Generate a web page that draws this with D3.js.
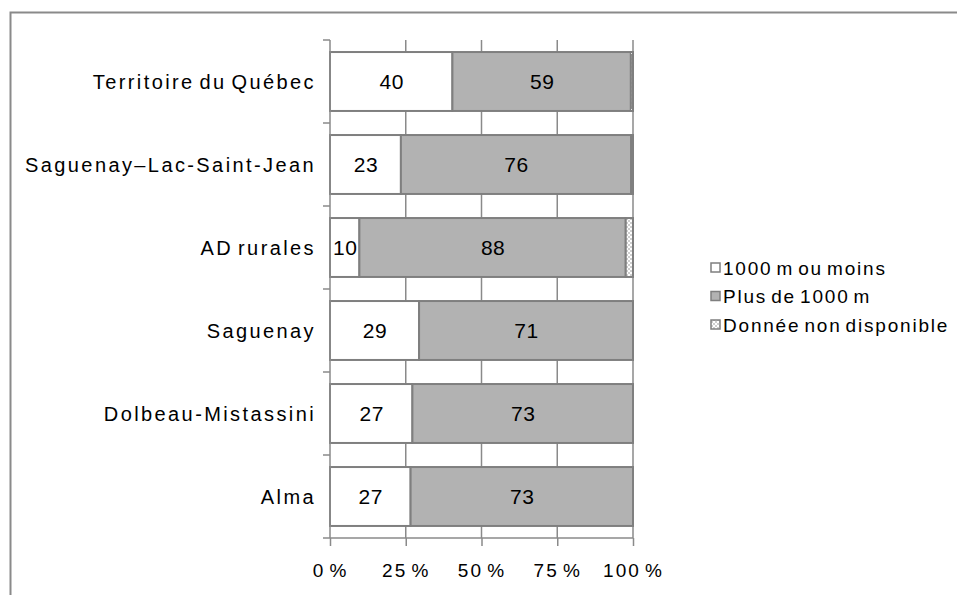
<!DOCTYPE html>
<html><head><meta charset="utf-8">
<script src="https://cdn.jsdelivr.net/npm/d3@7"></script>
<style>body{margin:0;background:#fff}svg{display:block}</style>
</head><body>
<svg id="c" width="957" height="595"></svg>
<script>
const categories = ["Territoire du Québec","Saguenay–Lac-Saint-Jean","AD rurales","Saguenay","Dolbeau-Mistassini","Alma"];
const seriesNames = ["1000 m ou moins","Plus de 1000 m","Donnée non disponible"];
const near = [40.4, 23.4, 9.7, 29.4, 27.2, 26.6];
const far = [58.9, 76.0, 87.9, 70.6, 72.8, 73.4];
const nd = [0.7, 0.6, 2.4, 0, 0, 0];
const tickValues = [0, 25, 50, 75, 100];

const svg = d3.select("#c");
const font = "Arial, 'Liberation Sans', sans-serif";
const defs = svg.append("defs");
const pat = defs.append("pattern").attr("id","chk").attr("width",4).attr("height",4).attr("patternUnits","userSpaceOnUse");
pat.append("rect").attr("width",4).attr("height",4).attr("fill","#fff");
pat.append("rect").attr("width",2).attr("height",2).attr("fill","#cfcfcf");
pat.append("rect").attr("x",2).attr("y",2).attr("width",2).attr("height",2).attr("fill","#cfcfcf");

// outer frame
svg.append("rect").attr("x",10.5).attr("y",12.5).attr("width",1000).attr("height",700)
  .attr("fill","none").attr("stroke","#8a8a8a").attr("stroke-width",2);

const x = d3.scaleLinear().domain([0,100]).range([330,633]);
const y = d3.scaleBand().domain(categories).range([40,538]).paddingInner(0.29).paddingOuter(0.145);
const gridCol = "#8a8a8a";

// gridlines
svg.append("g").selectAll("line").data(tickValues.slice(1)).join("line")
  .attr("x1",d=>x(d)).attr("x2",d=>x(d)).attr("y1",40).attr("y2",538)
  .attr("stroke",gridCol).attr("stroke-width",1.5);

const fills = ["#ffffff","#b2b2b2","url(#chk)"];
const vals = [near, far, nd];
const rows = categories.map((c,i)=>{
  let acc = 0;
  return vals.map((v,k)=>{ const s = {cat:c, k, x0:acc, x1:acc+v[i], v:v[i]}; acc += v[i]; return s; });
});
const segs = rows.flat().filter(s=>s.v>0);
svg.append("g").selectAll("rect").data(segs).join("rect")
  .attr("x",d=>x(d.x0)).attr("width",d=>x(d.x1)-x(d.x0))
  .attr("y",d=>y(d.cat)).attr("height",y.bandwidth())
  .attr("fill",d=>fills[d.k]).attr("stroke","#7f7f7f").attr("stroke-width",2);

svg.append("g").selectAll("text").data(segs.filter(s=>s.k<2)).join("text")
  .attr("x",d=>(x(d.x0)+x(d.x1))/2 + 0.5).attr("y",d=>y(d.cat)+y.bandwidth()/2)
  .attr("dy","0.36em").attr("text-anchor","middle")
  .attr("font-family",font).attr("font-size",21).attr("letter-spacing",0.5).attr("fill","#000")
  .text(d=>Math.round(d.v));

// y axis
const yAxis = svg.append("g");
yAxis.append("line").attr("x1",330).attr("x2",330).attr("y1",40).attr("y2",538).attr("stroke",gridCol).attr("stroke-width",1.5);
const half = y.step()*y.paddingInner()/2;
yAxis.selectAll("line.t").data(categories).join("line").attr("class","t")
  .attr("x1",323).attr("x2",330).attr("y1",d=>y(d)-half).attr("y2",d=>y(d)-half)
  .attr("stroke",gridCol).attr("stroke-width",1.5);
yAxis.selectAll("text").data(categories).join("text")
  .attr("x",316).attr("y",d=>y(d)+y.bandwidth()/2).attr("dy","0.36em").attr("text-anchor","end")
  .attr("font-family",font).attr("font-size",20).attr("letter-spacing",2.4).attr("word-spacing",-3).attr("fill","#000")
  .text(d=>d);

// x axis
const xAxis = d3.axisBottom(x).tickValues(tickValues).tickSize(8).tickSizeOuter(0).tickFormat(d=>d+" %");
const gx = svg.append("g").attr("transform","translate(0,538)").call(xAxis);
gx.select(".domain").remove();
gx.append("line").attr("x1",323).attr("x2",633).attr("stroke",gridCol).attr("stroke-width",1.5);
gx.selectAll(".tick line").attr("stroke",gridCol).attr("stroke-width",1.5);
gx.selectAll(".tick text").attr("y",32).attr("dy","0.36em").attr("font-family",font).attr("font-size",19)
  .attr("letter-spacing",2).attr("word-spacing",-3).attr("fill","#000");

// legend
const lg = svg.append("g").selectAll("g").data(seriesNames).join("g")
  .attr("transform",(d,i)=>`translate(711,${268 + i*28.5})`);
lg.append("rect").attr("x",0).attr("y",-5).attr("width",9).attr("height",9)
  .attr("fill",(d,i)=>fills[i]).attr("stroke","#7f7f7f").attr("stroke-width",1.5);
lg.append("text").attr("x",12).attr("y",0).attr("dy","0.36em")
  .attr("font-family",font).attr("font-size",19).attr("letter-spacing",1.8).attr("word-spacing",-3).attr("fill","#000")
  .text(d=>d);
</script>
</body></html>
